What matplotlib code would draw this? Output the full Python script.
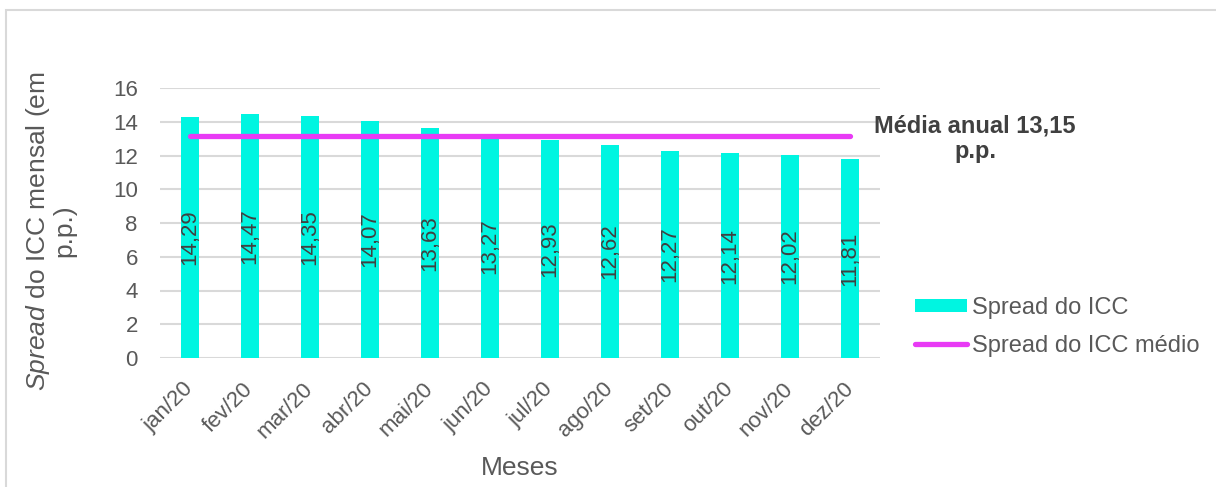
# Spread do ICC mensal em 2020, com a média anual

import matplotlib.pyplot as plt
from matplotlib.patches import Rectangle

plt.rcParams['font.family'] = ['Liberation Sans', 'DejaVu Sans']
plt.rcParams['mathtext.fontset'] = 'custom'
plt.rcParams['mathtext.rm'] = 'Liberation Sans'
plt.rcParams['mathtext.it'] = 'Liberation Sans:italic'

# ------ Dados ------
meses = ['jan/20', 'fev/20', 'mar/20', 'abr/20', 'mai/20', 'jun/20',
         'jul/20', 'ago/20', 'set/20', 'out/20', 'nov/20', 'dez/20']
spread = [14.29, 14.47, 14.35, 14.07, 13.63, 13.27,
          12.93, 12.62, 12.27, 12.14, 12.02, 11.81]
media = 13.15

ciano = '#00F5E1'
magenta = '#E83AF5'
cinza = '#595959'
grade = '#D9D9D9'

fig = plt.figure(figsize=(12.16, 4.87), dpi=100)
ax = fig.add_axes([160/1216, 1 - 358/487, 720/1216, 270/487])

x = list(range(len(meses)))
bars = ax.bar(x, spread, width=0.31, color=ciano, label='Spread do ICC', zorder=2)
linha, = ax.plot([x[0], x[-1]], [media, media], color=magenta, lw=3.8,
                 solid_capstyle='round', label='Spread do ICC médio', zorder=3)

rotulos = [f'{v:.2f}'.replace('.', ',') for v in spread]
ax.bar_label(bars, labels=rotulos, label_type='center', rotation=90,
             fontsize=16, color='#404040')

ax.set_xlim(-0.5, 11.5)
ax.set_ylim(0, 16)
ax.set_yticks(range(0, 17, 2))
ax.grid(axis='y', color=grade, lw=1.5, zorder=0)
for s in ax.spines.values():
    s.set_visible(False)
ax.tick_params(length=0, labelsize=16, labelcolor=cinza)
ax.tick_params(axis='y', pad=16)
ax.set_xticks(x)
ax.set_xticklabels(meses, rotation=45, ha='right', va='center',
                   rotation_mode='anchor')
ax.tick_params(axis='x', pad=20)

fig.text(0.041, 1 - 231/487, r'$\it{Spread}$ do ICC mensal (em' + '\n' + 'p.p.)',
         rotation=90, ha='center', va='center', multialignment='center',
         fontsize=19, color=cinza, linespacing=1.0)
fig.text(520/1216, 1 - 468/487, 'Meses', ha='center', va='center',
         fontsize=19, color=cinza)

fig.text(975/1216, 1 - 139/487, 'Média anual 13,15\np.p.', ha='center',
         va='center', multialignment='center', fontsize=17, fontweight='bold',
         color='#404040', linespacing=1.15)

leg = fig.legend(handles=[bars, linha], loc='upper left',
                 bbox_to_anchor=(894/1216, 1 - 276/487),
                 frameon=False, fontsize=17, handlelength=2.2,
                 handleheight=0.45, handletextpad=0.2, labelspacing=0.65)
for t in leg.get_texts():
    t.set_color(cinza)

# moldura do gráfico
fig.patches.append(Rectangle((6/1216, -0.1), 1.2, 1 - 10/487 + 0.1,
                             transform=fig.transFigure, fill=False,
                             edgecolor=grade, lw=1.5))

fig.savefig('out.png', dpi=100)
